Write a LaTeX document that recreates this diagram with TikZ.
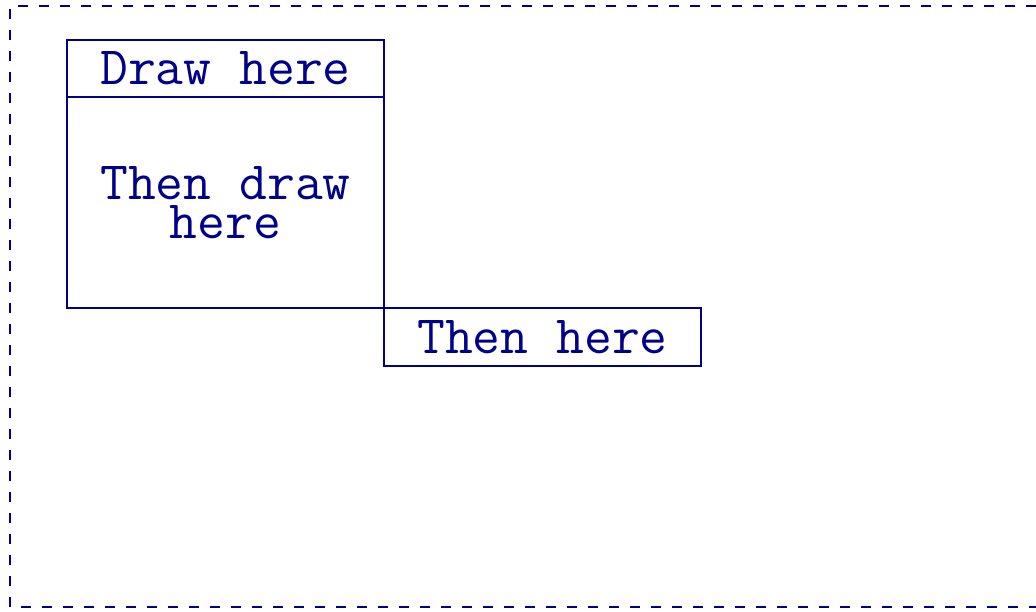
\documentclass[tikz,border=0pt]{standalone}
\definecolor{navyc}{RGB}{0,0,139}
\begin{document}
\begin{tikzpicture}[x=0.5pt,y=-0.5pt,
  box/.style={draw=navyc, line width=1pt, text=navyc, font=\ttfamily\fontsize{27}{19.5}\selectfont, inner sep=0pt, outer sep=0pt, minimum width=158.5pt, align=center},
  frame/.style={draw=navyc, line width=1pt, dash pattern=on 5pt off 5.5pt}]
\useasboundingbox (0,0) rectangle (1036,611);
\draw[frame] (1036,6) -- (10,6) -- (10,607) -- (1036,607);
\node[box, minimum height=28.5pt, anchor=north west] (a) at (67,40) {Draw here};
\node[box, minimum height=105.5pt, anchor=north] (b) at (a.south) {Then draw\\here};
\node[box, minimum height=29pt, anchor=north west] (c) at (b.south east) {Then here};
\end{tikzpicture}
\end{document}
